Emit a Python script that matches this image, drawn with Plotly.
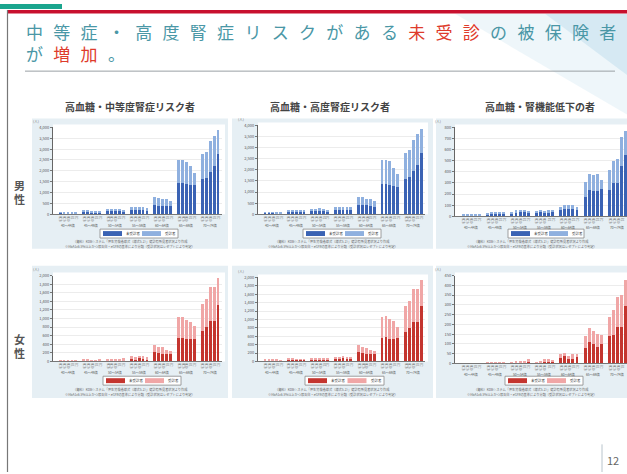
import plotly.graph_objects as go

W, H = 627, 474


def px(x):
    return x / W


def py(y):
    return 1 - y / H


FONT = "Noto Sans CJK JP"

# ---- categories -------------------------------------------------------
age_groups = ["40〜44歳", "45〜49歳", "50〜54歳", "55〜59歳", "60〜64歳", "65〜69歳", "70〜74歳"]
years = ["H28", "H29", "H30", "R1", "R2"]
panel_titles = ["高血糖・中等度腎症リスク者", "高血糖・高度腎症リスク者", "高血糖・腎機能低下の者"]
series_names = ["未受診者", "受診者"]

# ---- values (persons), 7 age groups x 5 years -------------------------
male_moderate_lower = [45, 40, 40, 35, 30, 95, 90, 85, 85, 80, 140, 145, 150, 140, 115,
                       185, 180, 180, 175, 170, 425, 400, 380, 390, 360,
                       1440, 1420, 1380, 1350, 1350, 1610, 1680, 1950, 2230, 2790]
male_moderate_upper = [35, 30, 30, 30, 25, 75, 75, 70, 65, 60, 110, 115, 115, 110, 85,
                       145, 145, 140, 140, 130, 355, 350, 330, 300, 260,
                       1070, 1060, 1050, 870, 550, 1180, 1190, 1420, 1390, 1070]

male_severe_lower = [45, 40, 40, 35, 30, 100, 95, 90, 90, 85, 140, 145, 150, 145, 120,
                     190, 185, 185, 180, 175, 420, 415, 400, 380, 350,
                     1360, 1380, 1340, 1280, 1240, 1610, 1670, 1950, 2220, 2770]
male_severe_upper = [35, 35, 30, 30, 25, 80, 80, 75, 70, 65, 110, 110, 115, 110, 90,
                     150, 150, 145, 140, 135, 360, 345, 300, 300, 250,
                     1090, 1050, 1040, 820, 590, 1170, 1220, 1400, 1400, 1060]

male_kidney_lower = [5, 6, 7, 6, 5, 14, 18, 20, 22, 18, 25, 32, 35, 34, 28,
                     30, 35, 32, 33, 36, 55, 70, 65, 68, 58,
                     175, 240, 230, 225, 250, 240, 300, 300, 455, 555]
male_kidney_upper = [3, 4, 5, 4, 3, 8, 10, 12, 13, 12, 15, 20, 20, 21, 17,
                     18, 20, 18, 19, 22, 27, 35, 33, 34, 30,
                     135, 140, 140, 155, 80, 175, 200, 220, 255, 215]

female_moderate_lower = [18, 18, 16, 15, 13, 30, 28, 24, 22, 26, 32, 30, 32, 34, 42,
                         65, 60, 70, 65, 55, 210, 190, 180, 170, 165,
                         540, 550, 520, 520, 530, 710, 800, 940, 950, 1310]
female_moderate_upper = [12, 12, 12, 10, 9, 25, 22, 18, 16, 19, 23, 22, 23, 24, 33,
                         50, 45, 55, 50, 40, 175, 150, 145, 95, 80,
                         490, 480, 450, 400, 285, 630, 650, 790, 790, 630]

female_severe_lower = [18, 16, 16, 15, 13, 30, 27, 24, 23, 26, 32, 30, 32, 34, 41,
                       65, 62, 72, 65, 55, 215, 190, 180, 170, 165,
                       560, 580, 540, 540, 550, 710, 790, 940, 940, 1320]
female_severe_upper = [12, 12, 12, 10, 9, 25, 21, 18, 17, 19, 23, 22, 23, 24, 31,
                       50, 48, 58, 50, 40, 175, 150, 140, 100, 85,
                       500, 500, 460, 420, 280, 620, 650, 780, 780, 610]

female_kidney_lower = [2, 2, 1, 2, 1, 4, 5, 5, 4, 5, 5, 6, 8, 7, 12,
                       4, 6, 12, 12, 10, 30, 38, 25, 25, 35,
                       77, 111, 97, 86, 97, 138, 144, 185, 185, 295]
female_kidney_upper = [1, 1, 1, 1, 1, 3, 4, 3, 3, 3, 3, 4, 6, 4, 8,
                       3, 4, 8, 8, 7, 17, 17, 14, 25, 12,
                       62, 70, 67, 67, 47, 97, 129, 155, 167, 133]

MALE = ("#3b63b4", "#8fb0df")
FEMALE = ("#c4352f", "#f0a6a6")

# x slot of each bar: five years side by side, one empty slot between age groups
xpos = [g * 6 + b for g in range(len(age_groups)) for b in range(len(years))]
xtext = [years[b] for g in range(len(age_groups)) for b in range(len(years))]

# panel layout: plot box in pixels, y range, tick step, colours
panels = [
    dict(lower=male_moderate_lower, upper=male_moderate_upper, box=(53, 222, 125, 213),
         ymax=4000, dtick=500, xr=(-1.8, 41), col=MALE, bg=(32, 228, 116, 248), leg=(100, 178, 228, 237)),
    dict(lower=male_severe_lower, upper=male_severe_upper, box=(258, 425, 123, 213),
         ymax=4000, dtick=500, xr=(-1.8, 41), col=MALE, bg=(232, 433, 116, 248), leg=(303, 381, 228, 237)),
    dict(lower=male_kidney_lower, upper=male_kidney_upper, box=(455, 627, 125, 215),
         ymax=800, dtick=100, xr=(-2, 40.3), col=MALE, bg=(436, 627, 116, 248), leg=(508, 584, 228, 237)),
    dict(lower=female_moderate_lower, upper=female_moderate_upper, box=(53, 222, 275, 362),
         ymax=2000, dtick=200, xr=(-1.8, 41), col=FEMALE, bg=(32, 228, 265, 399), leg=(103, 181, 377, 386)),
    dict(lower=female_severe_lower, upper=female_severe_upper, box=(258, 425, 277, 362),
         ymax=2000, dtick=200, xr=(-1.8, 41), col=FEMALE, bg=(232, 433, 265, 399), leg=(305, 384, 377, 386)),
    dict(lower=female_kidney_lower, upper=female_kidney_upper, box=(455, 627, 275, 364),
         ymax=450, dtick=50, xr=(-2, 40.3), col=FEMALE, bg=(436, 627, 265, 399), leg=(505, 583, 377, 386)),
]

fig = go.Figure()
layout = dict(
    width=W, height=H, margin=dict(l=0, r=0, t=0, b=0),
    paper_bgcolor="white", plot_bgcolor="white",
    barmode="stack", bargap=0.25, showlegend=False,
    font=dict(family=FONT, color="#444"),
)
shapes = []
annotations = []


def note(x, y, text, size, color="#444", xref="paper", xanchor="center", **kw):
    annotations.append(dict(xref=xref, yref="paper", x=x, y=y, text=text, showarrow=False,
                            xanchor=xanchor, yanchor="middle",
                            font=dict(size=size, color=color, family=FONT), **kw))


# slide decoration
shapes += [
    dict(type="path", xref="paper", yref="paper", layer="below", line=dict(width=0),
         path=f"M{px(455)},{py(10)} L{px(627)},{py(10)} L{px(627)},{py(112)} Z",
         fillcolor="rgba(160,205,225,0.18)"),
    dict(type="path", xref="paper", yref="paper", layer="below", line=dict(width=0),
         path=f"M{px(545)},{py(10)} L{px(627)},{py(10)} L{px(627)},{py(72)} Z",
         fillcolor="rgba(120,185,215,0.2)"),
    dict(type="rect", xref="paper", yref="paper", x0=0, x1=px(62), y0=py(0), y1=py(5),
         fillcolor="#1aa58e", line=dict(width=0)),
    dict(type="rect", xref="paper", yref="paper", x0=px(7), x1=1, y0=py(6), y1=py(9.5),
         fillcolor="#c8102e", line=dict(width=0)),
    dict(type="line", xref="paper", yref="paper", x0=px(7.5), x1=px(7.5), y0=py(6), y1=0,
         line=dict(color="#777", width=1.2)),
    dict(type="line", xref="paper", yref="paper", x0=px(25), x1=px(615), y0=py(68), y1=py(68),
         line=dict(color="#9aa0a4", width=1)),
    dict(type="line", xref="paper", yref="paper", x0=px(602), x1=px(602), y0=py(446), y1=0,
         line=dict(color="#b8c4cc", width=1)),
]

TEAL = "#4a97a6"
RED = "#de3b2c"
SP = "letter-spacing:10.3px"
# two-line slide heading as one left-aligned block
note(px(24), py(39),
     f"<span style='{SP}'>中等症・高度腎症リスクがある<span style='color:{RED}'>未受診</span>の被保険者</span>"
     f"<br><span style='{SP}'>が<span style='color:{RED}'>増加</span>。</span>",
     17, TEAL, xanchor="left", align="left")
note(px(19), py(190), "<b>男</b><br><b>性</b>", 11, "#555")
note(px(19), py(346), "<b>女</b><br><b>性</b>", 11, "#555")
note(px(613), py(462), "12", 11, "#666")

title_x = [130, 330, 540]
for i, t in enumerate(panel_titles):
    note(px(title_x[i]), py(104), f"<b>{t}</b>", 10, "#444")

footnotes = [
    "（資料）KDBシステム「厚生労働省様式（様式5-2）」健診有所見者状況より作成",
    "※HbA1c6.5%以上かつ尿蛋白・eGFRの基準により分類（受診状況はレセプトにより判定）",
]

for k, p in enumerate(panels):
    n = k + 1
    xa = "x" if n == 1 else f"x{n}"
    ya = "y" if n == 1 else f"y{n}"
    x0, x1, y0, y1 = p["box"]
    dark, light = p["col"]

    # light blue panel backdrop
    bx0, bx1, by0, by1 = p["bg"]
    shapes.append(dict(type="rect", xref="paper", yref="paper", layer="below",
                       x0=px(bx0), x1=px(bx1), y0=py(by1), y1=py(by0),
                       fillcolor="#e6eff4", line=dict(width=0)))
    shapes.append(dict(type="rect", xref="paper", yref="paper", layer="below",
                       x0=px(x0), x1=px(min(x1 + 3, 627)), y0=py(y1), y1=py(y0 - 3),
                       fillcolor="white", line=dict(width=0)))

    fig.add_trace(go.Bar(x=xpos, y=p["lower"], name=series_names[0], marker=dict(color=dark, line=dict(width=0)),
                         xaxis=xa, yaxis=ya, width=0.72))
    fig.add_trace(go.Bar(x=xpos, y=p["upper"], name=series_names[1], marker=dict(color=light, line=dict(width=0)),
                         xaxis=xa, yaxis=ya, width=0.72))

    layout["xaxis" if n == 1 else f"xaxis{n}"] = dict(
        domain=[px(x0), px(x1)], anchor=ya, range=list(p["xr"]),
        tickmode="array", tickvals=xpos, ticktext=xtext, tickangle=90,
        tickfont=dict(size=3, color="#666"), ticks="", showgrid=False, zeroline=False,
        showline=True, linecolor="#777", linewidth=1, fixedrange=True)
    layout["yaxis" if n == 1 else f"yaxis{n}"] = dict(
        domain=[py(y1), py(y0)], anchor=xa, range=[0, p["ymax"]], dtick=p["dtick"],
        tickformat=",", tickfont=dict(size=4, color="#555"), ticks="outside", ticklen=2,
        tickcolor="#777", showgrid=True, gridcolor="#ececec", gridwidth=0.6, zeroline=False,
        showline=True, linecolor="#666", linewidth=1, fixedrange=True)

    # unit label, tucked above the top tick label
    note(px(x0 - 22), py(y0 - 6), "(人)", 3.5, "#666", xanchor="left")
    # age group labels under the year labels
    for g, name in enumerate(age_groups):
        note(g * 6 + 2, py(y1 + 11.5), name, 3.3, "#555", xref=xa)

    # legend box
    lx0, lx1, ly0, ly1 = p["leg"]
    shapes.append(dict(type="rect", xref="paper", yref="paper", x0=px(lx0), x1=px(lx1),
                       y0=py(ly1), y1=py(ly0), fillcolor="white", line=dict(color="#888", width=0.8)))
    seg = (lx1 - lx0) / 2
    for j, c in enumerate((dark, light)):
        sx = lx0 + 3 + j * seg
        shapes.append(dict(type="rect", xref="paper", yref="paper", x0=px(sx), x1=px(sx + 19),
                           y0=py(ly1 - 2), y1=py(ly0 + 2), fillcolor=c, line=dict(width=0)))
        note(px(sx + 21), py((ly0 + ly1) / 2), series_names[j], 3.5, "#444", xanchor="left")
    # source notes
    cx = (bx0 + min(bx1, 627)) / 2
    for j, t in enumerate(footnotes):
        note(px(cx), py(ly1 + 4 + j * 5), t, 3.2, "#666")

layout["shapes"] = shapes
layout["annotations"] = annotations
fig.update_layout(**layout)
fig.write_html("out.html")
